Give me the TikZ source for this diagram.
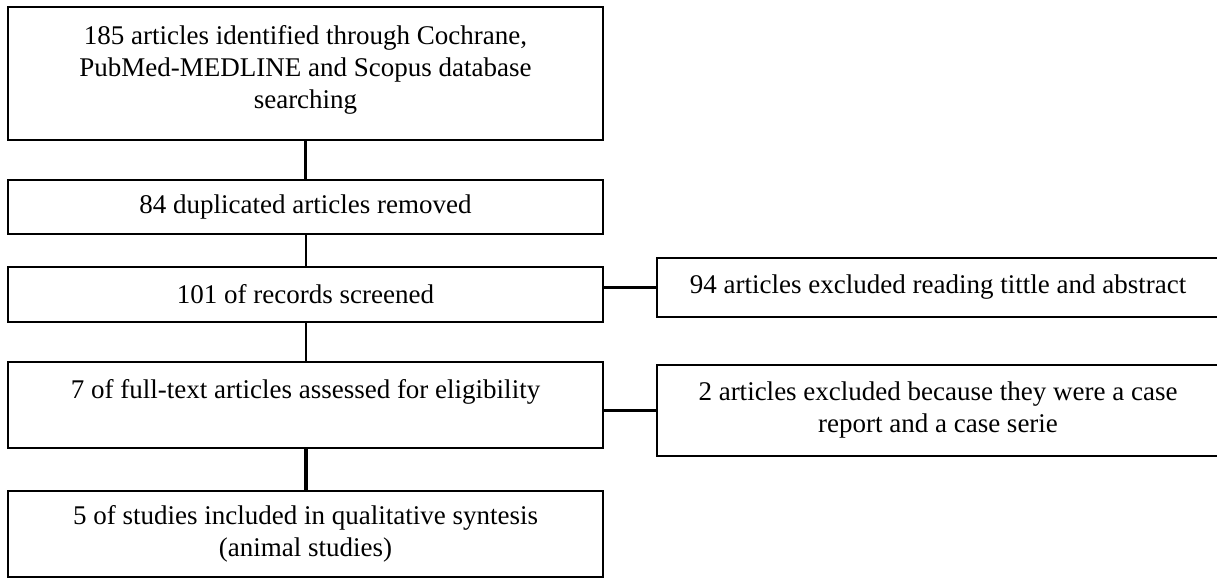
\documentclass[tikz,border=0pt]{standalone}
\usepackage{fontspec}
\setmainfont{Liberation Serif}
\begin{document}
\begin{tikzpicture}[x=1pt,y=-1pt,
  box/.style={draw=black, line width=2.2pt, rectangle, inner sep=0pt, align=center,
    font=\fontsize{27}{32}\selectfont},
  leftbox/.style={box, minimum width=595pt},
  rightbox/.style={box, minimum width=562pt},
  conn/.style={draw=black, line width=#1},
]
\useasboundingbox (0,0) rectangle (1217,580);
\fill[white] (0,0) rectangle (1217,580);

\node[leftbox, minimum height=133pt, line width=2.6pt] (b1) at (305.5,73.5)
  {185 articles identified through Cochrane,\\PubMed-MEDLINE and Scopus database\\searching\\[-18pt]\mbox{}};
\node[leftbox, minimum height=54pt] (b2) at (305.5,207) {84 duplicated articles removed};
\node[leftbox, minimum height=55pt] (b3) at (305.5,294.5) {101 of records screened};
\node[leftbox, minimum height=86pt] (b4) at (305.5,405)
  {7 of full-text articles assessed for eligibility\\\mbox{}};
\node[leftbox, minimum height=86pt] (b5) at (305.5,534)
  {5 of studies included in qualitative syntesis\\(animal studies)};

\node[rightbox, minimum height=59pt] (r1) at (938,287.5)
  {94 articles excluded reading tittle and abstract};
\node[rightbox, minimum height=91pt] (r2) at (938,410.5)
  {2 articles excluded because they were a case\\report and a case serie};

\draw[conn=3pt] (b1.south) -- (b2.north);
\draw[conn=2pt] (b2.south) -- (b3.north);
\draw[conn=2pt] (b3.south) -- (b4.north);
\draw[conn=4pt] (b4.south) -- (b5.north);
\draw[conn=3.5pt] (r1.west -| b3.east) -- (r1.west);
\draw[conn=3.5pt] (r2.west -| b4.east) -- (r2.west);
\end{tikzpicture}
\end{document}
